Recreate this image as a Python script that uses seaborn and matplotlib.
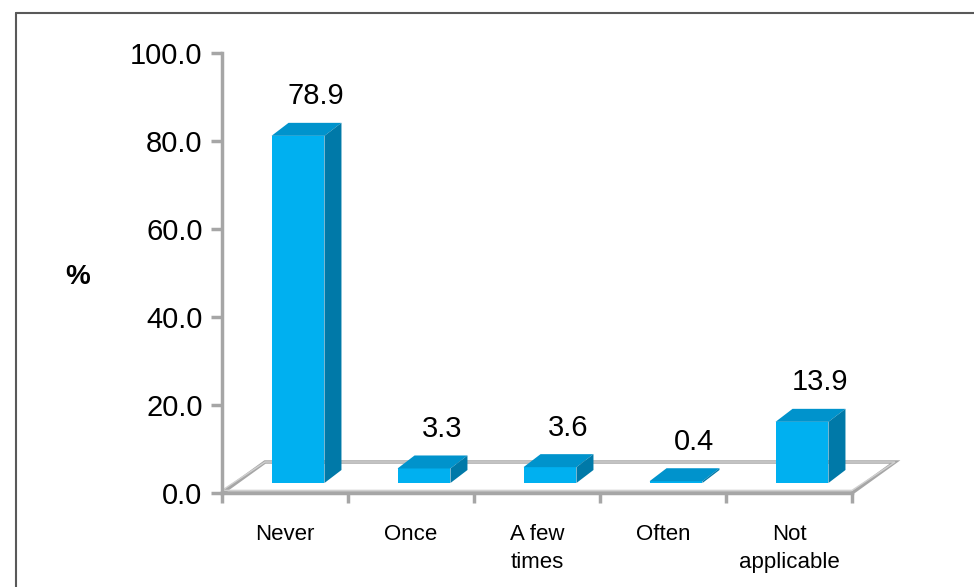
import matplotlib
matplotlib.use("Agg")
import matplotlib.pyplot as plt
from matplotlib.patches import Polygon
from matplotlib.lines import Line2D
import seaborn as sns
import pandas as pd

categories = ["Never", "Once", "A few\ntimes", "Often", "Not\napplicable"]
values = [78.9, 3.3, 3.6, 0.4, 13.9]
value_labels = ["78.9", "3.3", "3.6", "0.4", "13.9"]
yticks = [0, 20, 40, 60, 80, 100]
ytick_labels = ["0.0", "20.0", "40.0", "60.0", "80.0", "100.0"]

sns.set_theme(style="white")
plt.rcParams["font.family"] = ["Liberation Sans", "DejaVu Sans"]
plt.rcParams["text.color"] = "black"

W, H = 974, 587
fig = plt.figure(figsize=(W / 100, H / 100), dpi=100)
ax = fig.add_axes([222 / W, (H - 493) / H, 630 / W, 440 / H])

df = pd.DataFrame({"cat": categories, "val": values})
sns.barplot(data=df, x="cat", y="val", color="#00B0F0", saturation=1,
            width=0.42, ax=ax, zorder=3)

ax.set_xlim(-0.5, 4.5)
ax.set_ylim(0, 100)

# 3D offsets (in data units)
px_x = 126.0  # pixels per category
px_y = 4.4    # pixels per value unit
bdx, bdy = 13 / px_x, 10 / px_y      # bar front offset from floor front
ddx, ddy = 17 / px_x, 13 / px_y      # bar depth
fdx, fdy = 43 / px_x, 31 / px_y      # floor depth

grey = "#A6A6A6"
# floor
floor = Polygon([(-0.5, 0), (4.5, 0), (4.5 + fdx, fdy), (-0.5 + fdx, fdy)],
                closed=True, fill=False, edgecolor=grey, lw=2.5,
                clip_on=False, zorder=1)
ax.add_patch(floor)
floor2 = Polygon([(-0.5, 0.6), (4.5, 0.6), (4.5 + fdx, fdy), (-0.5 + fdx, fdy)],
                 closed=True, fill=False, edgecolor="#D0D0D0", lw=1.0,
                 clip_on=False, zorder=1)
ax.add_patch(floor2)

for p, lab, v in zip(ax.patches[:len(values)], value_labels, values):
    p.set_x(p.get_x() + bdx)
    p.set_y(p.get_y() + bdy)
    p.set_edgecolor("none")
    x0 = p.get_x()
    x1 = x0 + p.get_width()
    y0 = p.get_y()
    y1 = y0 + p.get_height()
    top = Polygon([(x0, y1), (x1, y1), (x1 + ddx, y1 + ddy), (x0 + ddx, y1 + ddy)],
                  closed=True, facecolor="#0093CC", edgecolor="none",
                  clip_on=False, zorder=3)
    side = Polygon([(x1, y0), (x1 + ddx, y0 + ddy), (x1 + ddx, y1 + ddy), (x1, y1)],
                   closed=True, facecolor="#0079A8", edgecolor="none",
                   clip_on=False, zorder=3)
    ax.add_patch(top)
    ax.add_patch(side)
    cx = (x0 + x1) / 2
    ax.text(cx + 0.14, y1 + ddy + 6, lab, ha="center", va="center",
            fontsize=21, color="black", zorder=5)

# axes styling
for s in ["top", "right"]:
    ax.spines[s].set_visible(False)
ax.spines["left"].set_color(grey)
ax.spines["left"].set_linewidth(2.5)
ax.spines["bottom"].set_color(grey)
ax.spines["bottom"].set_linewidth(2.5)
ax.spines["bottom"].set_zorder(2)

ax.set_yticks(yticks)
ax.set_yticklabels(ytick_labels, fontsize=21)
ax.tick_params(axis="y", which="major", direction="out", length=8, width=2.5,
               color=grey, pad=6, left=True, labelcolor="black")
ax.set_xticks(range(len(categories)))
ax.set_xticklabels(categories, fontsize=16, linespacing=1.45, va="top")
ax.tick_params(axis="x", which="major", length=0, pad=22, labelcolor="black")
ax.set_xticks([i - 0.5 for i in range(len(categories) + 1)], minor=True)
ax.tick_params(axis="x", which="minor", direction="out", length=7, width=2.5,
               color=grey, bottom=True)
ax.set_xlabel("")
ax.set_ylabel("")
fig.text(78 / W, 1 - 277 / H, "%", fontsize=20, fontweight="bold",
         ha="center", va="center", color="black")

# figure frame (top and left)
fig.add_artist(Line2D([16 / W, 1], [1 - 13 / H, 1 - 13 / H], color="#595959", lw=1.5))
fig.add_artist(Line2D([16 / W, 16 / W], [1 - 13 / H, 0], color="#595959", lw=1.5))

fig.savefig("out.png", dpi=100, facecolor="white")
